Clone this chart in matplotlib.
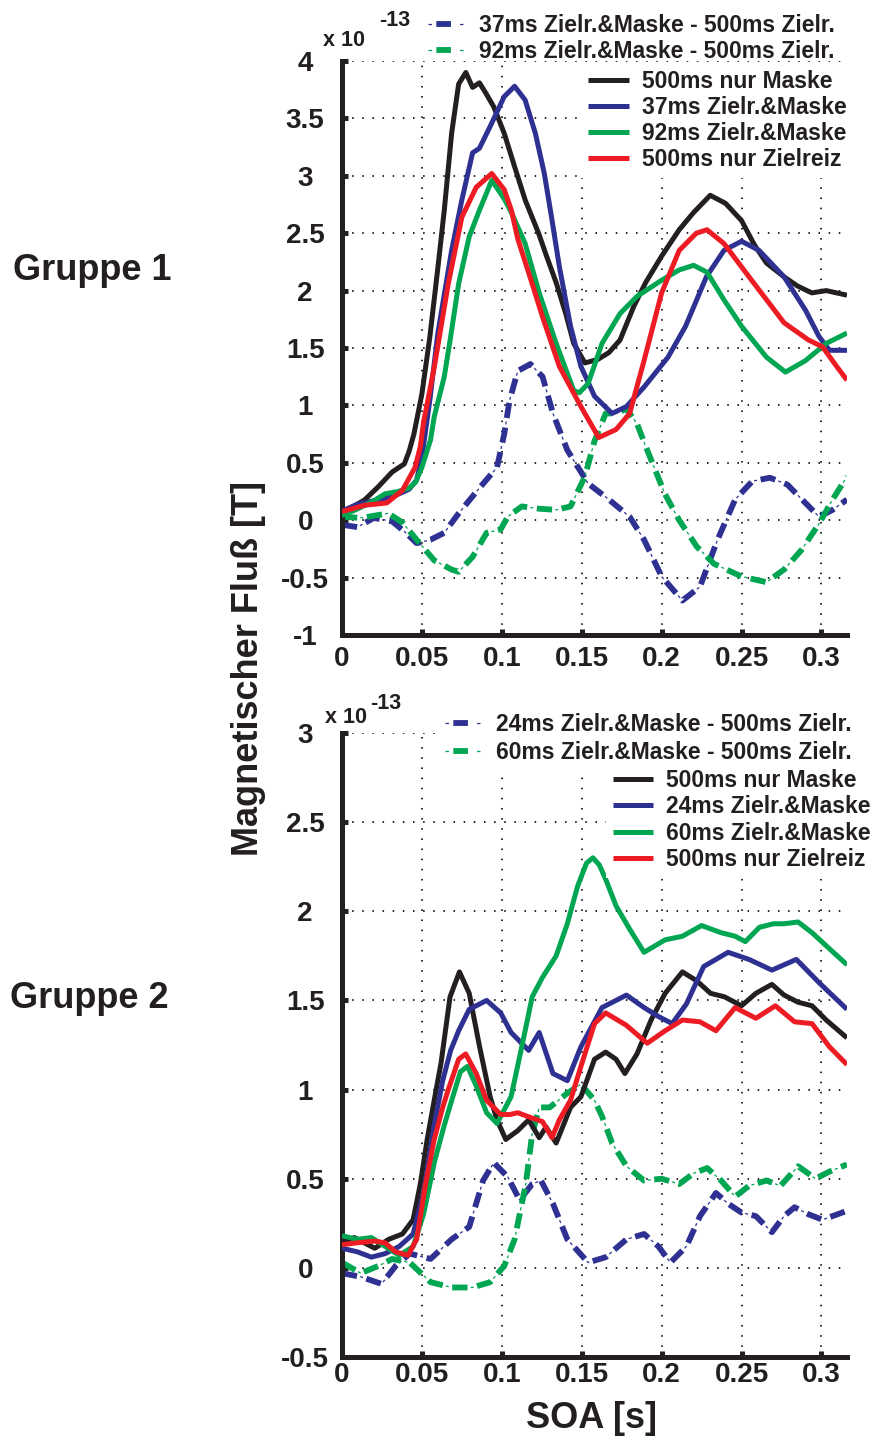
import matplotlib
matplotlib.use("Agg")
import matplotlib.pyplot as plt
from matplotlib.lines import Line2D
from matplotlib.legend_handler import HandlerTuple
from matplotlib.font_manager import FontProperties

plt.rcParams['font.family'] = ['Liberation Sans', 'DejaVu Sans']
plt.rcParams['font.weight'] = 'bold'
plt.rcParams['lines.scale_dashes'] = False

W, H = 877, 1441

# ---------------- data (SOA in s, flux in 1e-13 T) ----------------
# Gruppe 1
g1_black_t = [0, 0.007, 0.014, 0.0226, 0.0314, 0.039, 0.042, 0.045, 0.05, 0.055, 0.06, 0.064, 0.0686, 0.073,
              0.0775, 0.0817, 0.086, 0.09, 0.095, 0.1015, 0.108, 0.1146, 0.123, 0.128, 0.134, 0.14, 0.145,
              0.152, 0.16, 0.167, 0.174, 0.1825, 0.19, 0.2, 0.211, 0.22, 0.2304, 0.24, 0.25, 0.258, 0.2656,
              0.2766, 0.285, 0.294, 0.303, 0.316]
g1_black_v = [0.074, 0.12, 0.175, 0.29, 0.42, 0.49, 0.6, 0.75, 1.1, 1.6, 2.2, 2.7, 3.37, 3.8,
              3.90, 3.77, 3.81, 3.72, 3.60, 3.37, 3.08, 2.79, 2.5, 2.3, 2.07, 1.8, 1.54,
              1.37, 1.40, 1.46, 1.57, 1.86, 2.07, 2.30, 2.53, 2.68, 2.83, 2.76, 2.61, 2.4, 2.24,
              2.12, 2.04, 1.98, 2.0, 1.96]

g1_blue_t = [0, 0.01, 0.02, 0.03, 0.0358, 0.042, 0.0467, 0.05, 0.055, 0.06, 0.0686, 0.075, 0.0817, 0.086,
             0.0927, 0.1015, 0.108, 0.1146, 0.121, 0.1266, 0.131, 0.136, 0.143, 0.1495, 0.158, 0.169,
             0.178, 0.189, 0.204, 0.215, 0.228, 0.239, 0.25, 0.261, 0.2766, 0.29, 0.2985, 0.305, 0.316]
g1_blue_v = [0.08, 0.14, 0.17, 0.2, 0.23, 0.27, 0.35, 0.55, 1.05, 1.63, 2.35, 2.79, 3.2, 3.24,
             3.43, 3.69, 3.78, 3.66, 3.37, 3.02, 2.65, 2.21, 1.69, 1.34, 1.08, 0.93,
             0.99, 1.16, 1.42, 1.69, 2.12, 2.35, 2.43, 2.35, 2.12, 1.83, 1.6, 1.48, 1.48]

g1_green_t = [0, 0.01, 0.02, 0.027, 0.035, 0.042, 0.046, 0.05, 0.0554, 0.0577, 0.064, 0.068, 0.073, 0.0796,
              0.086, 0.0937, 0.1015, 0.106, 0.1146, 0.1234, 0.134, 0.145, 0.1485, 0.154, 0.1627, 0.174,
              0.1846, 0.2, 0.211, 0.22, 0.2284, 0.239, 0.25, 0.2656, 0.2775, 0.29, 0.303, 0.316]
g1_green_v = [0.04, 0.1, 0.17, 0.23, 0.25, 0.28, 0.33, 0.46, 0.7, 0.9, 1.25, 1.6, 2.06, 2.47,
              2.70, 2.96, 2.8, 2.68, 2.41, 1.98, 1.54, 1.13, 1.11, 1.19, 1.54, 1.80,
              1.95, 2.09, 2.18, 2.22, 2.16, 1.92, 1.69, 1.42, 1.29, 1.39, 1.54, 1.63]

g1_red_t = [0, 0.014, 0.028, 0.0378, 0.0457, 0.049, 0.051, 0.0577, 0.0665, 0.075, 0.084, 0.0937, 0.1015,
            0.106, 0.110, 0.119, 0.1255, 0.136, 0.1495, 0.1606, 0.1715, 0.18, 0.189, 0.2, 0.211, 0.2217,
            0.2284, 0.239, 0.2547, 0.2766, 0.2919, 0.3007, 0.3095, 0.316]
g1_red_v = [0.074, 0.13, 0.15, 0.26, 0.46, 0.64, 0.85, 1.33, 2.06, 2.64, 2.9, 3.02, 2.88,
            2.7, 2.45, 2.06, 1.77, 1.34, 0.99, 0.72, 0.79, 0.93, 1.39, 1.98, 2.35, 2.50,
            2.53, 2.41, 2.12, 1.72, 1.57, 1.51, 1.34, 1.22]

g1_bdiff_t = [0, 0.0096, 0.02, 0.0314, 0.040, 0.0467, 0.0554, 0.064, 0.073, 0.086, 0.097, 0.1015, 0.1048,
              0.110, 0.1179, 0.1255, 0.132, 0.141, 0.154, 0.167, 0.18, 0.189, 0.2, 0.213, 0.224, 0.235,
              0.246, 0.2568, 0.2678, 0.2787, 0.29, 0.2985, 0.307, 0.316]
g1_bdiff_v = [-0.04, -0.06, 0.02, -0.01, -0.11, -0.2, -0.17, -0.11, 0.06, 0.28, 0.46, 0.75, 1.04,
              1.30, 1.36, 1.25, 0.93, 0.61, 0.32, 0.18, 0.03, -0.17, -0.49, -0.7, -0.58, -0.17,
              0.18, 0.34, 0.37, 0.31, 0.15, 0.03, 0.09, 0.18]

g1_gdiff_t = [0, 0.012, 0.029, 0.0378, 0.0467, 0.0577, 0.0686, 0.073, 0.0817, 0.0905, 0.0993, 0.1037,
              0.1125, 0.1234, 0.134, 0.143, 0.152, 0.158, 0.165, 0.1715, 0.178, 0.1846, 0.191, 0.202,
              0.211, 0.222, 0.2328, 0.25, 0.2656, 0.2766, 0.2875, 0.2985, 0.307, 0.316]
g1_gdiff_v = [0.03, 0.02, 0.06, -0.02, -0.17, -0.35, -0.43, -0.45, -0.32, -0.11, -0.08, 0.03,
              0.12, 0.10, 0.09, 0.12, 0.38, 0.69, 0.93, 0.93, 0.97, 0.84, 0.61, 0.23,
              0.0, -0.23, -0.38, -0.49, -0.54, -0.43, -0.26, -0.03, 0.18, 0.38]

# Gruppe 2
g2_black_t = [0, 0.0077, 0.014, 0.0205, 0.0292, 0.0378, 0.0445, 0.049, 0.0533, 0.0577, 0.062, 0.0676,
              0.0735, 0.0796, 0.0861, 0.0927, 0.097, 0.1025, 0.110, 0.1168, 0.1234, 0.1277, 0.134,
              0.143, 0.1495, 0.158, 0.165, 0.1715, 0.177, 0.1846, 0.1934, 0.2022, 0.213, 0.222,
              0.2306, 0.2394, 0.25, 0.259, 0.269, 0.2766, 0.2854, 0.2941, 0.303, 0.316]
g2_black_v = [0.14, 0.17, 0.14, 0.11, 0.16, 0.19, 0.27, 0.47, 0.72, 0.94, 1.15, 1.52,
              1.66, 1.54, 1.24, 0.96, 0.83, 0.72, 0.77, 0.83, 0.73, 0.79, 0.70,
              0.90, 0.96, 1.17, 1.21, 1.17, 1.09, 1.20, 1.39, 1.54, 1.66, 1.61,
              1.54, 1.52, 1.47, 1.54, 1.59, 1.53, 1.49, 1.47, 1.39, 1.29]

g2_blue_t = [0, 0.0096, 0.0184, 0.027, 0.0358, 0.0445, 0.051, 0.0577, 0.063, 0.068, 0.073, 0.0796, 0.0905,
             0.0993, 0.1058, 0.1168, 0.1234, 0.132, 0.141, 0.1495, 0.1627, 0.178, 0.189, 0.198, 0.2066,
             0.2155, 0.2263, 0.2416, 0.2547, 0.269, 0.2843, 0.2985, 0.316]
g2_blue_v = [0.11, 0.09, 0.06, 0.08, 0.12, 0.19, 0.42, 0.8, 1.05, 1.22, 1.33, 1.45, 1.50,
             1.43, 1.32, 1.22, 1.32, 1.09, 1.05, 1.24, 1.46, 1.53, 1.46, 1.41, 1.37,
             1.48, 1.69, 1.77, 1.73, 1.67, 1.73, 1.60, 1.45]

g2_green_t = [0, 0.0096, 0.0184, 0.027, 0.0358, 0.0445, 0.051, 0.058, 0.064, 0.069, 0.0741, 0.0785, 0.084,
              0.0905, 0.097, 0.1058, 0.1125, 0.119, 0.1255, 0.134, 0.141, 0.1474, 0.153, 0.157, 0.161,
              0.165, 0.1715, 0.18, 0.189, 0.2022, 0.213, 0.225, 0.2372, 0.246, 0.2524, 0.2612, 0.27,
              0.2766, 0.2854, 0.2941, 0.305, 0.316]
g2_green_v = [0.18, 0.16, 0.17, 0.12, 0.07, 0.12, 0.3, 0.6, 0.8, 0.95, 1.10, 1.13, 1.02,
              0.87, 0.81, 0.96, 1.24, 1.52, 1.63, 1.75, 1.93, 2.14, 2.27, 2.30, 2.26,
              2.18, 2.03, 1.90, 1.77, 1.84, 1.86, 1.92, 1.88, 1.86, 1.83, 1.91, 1.93,
              1.93, 1.94, 1.88, 1.79, 1.70]

g2_red_t = [0, 0.009, 0.0205, 0.027, 0.0335, 0.0413, 0.0467, 0.0523, 0.0577, 0.063, 0.0665, 0.073, 0.0774,
            0.084, 0.0905, 0.0993, 0.105, 0.110, 0.119, 0.1255, 0.1314, 0.136, 0.143, 0.1495, 0.158,
            0.165, 0.178, 0.191, 0.2022, 0.213, 0.224, 0.234, 0.246, 0.259, 0.2712, 0.2832, 0.2941,
            0.305, 0.316]
g2_red_v = [0.13, 0.14, 0.15, 0.14, 0.09, 0.07, 0.16, 0.47, 0.72, 0.9, 1.0, 1.17, 1.20,
            1.09, 0.94, 0.86, 0.86, 0.87, 0.84, 0.82, 0.73, 0.83, 0.94, 1.13, 1.37,
            1.43, 1.36, 1.26, 1.33, 1.39, 1.38, 1.33, 1.46, 1.40, 1.47, 1.38, 1.37,
            1.24, 1.14]

g2_bdiff_t = [0, 0.0117, 0.0248, 0.0335, 0.0424, 0.0554, 0.0686, 0.0796, 0.0883, 0.095, 0.1037, 0.1112,
              0.119, 0.1245, 0.132, 0.141, 0.154, 0.165, 0.178, 0.189, 0.198, 0.2055, 0.2155, 0.224,
              0.234, 0.2416, 0.25, 0.259, 0.269, 0.2766, 0.2832, 0.292, 0.3007, 0.316]
g2_bdiff_v = [-0.03, -0.05, -0.09, 0.01, 0.08, 0.05, 0.16, 0.23, 0.49, 0.59, 0.51, 0.38,
              0.47, 0.49, 0.36, 0.16, 0.03, 0.06, 0.16, 0.19, 0.12, 0.03, 0.12, 0.29,
              0.42, 0.36, 0.31, 0.29, 0.20, 0.29, 0.34, 0.30, 0.27, 0.32]

g2_gdiff_t = [0, 0.0117, 0.0226, 0.0314, 0.0424, 0.0554, 0.0686, 0.0817, 0.0927, 0.1015, 0.108, 0.115,
              0.119, 0.1234, 0.13, 0.141, 0.1495, 0.158, 0.1627, 0.169, 0.178, 0.189, 0.2, 0.211,
              0.22, 0.2285, 0.2372, 0.246, 0.2547, 0.2656, 0.2744, 0.2854, 0.2963, 0.305, 0.316]
g2_gdiff_v = [0.03, -0.03, 0.01, 0.05, 0.03, -0.08, -0.11, -0.11, -0.08, 0.01, 0.16, 0.47,
              0.75, 0.90, 0.90, 0.98, 1.03, 0.94, 0.85, 0.70, 0.57, 0.49, 0.50, 0.47,
              0.53, 0.56, 0.49, 0.40, 0.46, 0.49, 0.46, 0.57, 0.50, 0.54, 0.58]

x_ticks = [0, 0.05, 0.1, 0.15, 0.2, 0.25, 0.3]
x_ticklabels = ['0', '0.05', '0.1', '0.15', '0.2', '0.25', '0.3']
g1_yticks = [-1, -0.5, 0, 0.5, 1, 1.5, 2, 2.5, 3, 3.5, 4]
g1_yticklabels = ['-1', '-0.5', '0', '0.5', '1', '1.5', '2', '2.5', '3', '3.5', '4']
g2_yticks = [-0.5, 0, 0.5, 1, 1.5, 2, 2.5, 3]
g2_yticklabels = ['-0.5', '0', '0.5', '1', '1.5', '2', '2.5', '3']

g1_solid_labels = ['500ms nur Maske', '37ms Zielr.&Maske', '92ms Zielr.&Maske', '500ms nur Zielreiz']
g1_diff_labels = ['37ms Zielr.&Maske - 500ms Zielr.', '92ms Zielr.&Maske - 500ms Zielr.']
g2_solid_labels = ['500ms nur Maske', '24ms Zielr.&Maske', '60ms Zielr.&Maske', '500ms nur Zielreiz']
g2_diff_labels = ['24ms Zielr.&Maske - 500ms Zielr.', '60ms Zielr.&Maske - 500ms Zielr.']

BLACK = '#231f20'
BLUE = '#2e3192'
GREEN = '#00a651'
RED = '#ed1c24'

# ---------------- figure ----------------
fig = plt.figure(figsize=(W / 100, H / 100), dpi=100)


def px_axes(left, top, right, bottom):
    return fig.add_axes([left / W, 1 - bottom / H, (right - left) / W, (bottom - top) / H])


ax1 = px_axes(342, 61, 847, 635)
ax2 = px_axes(342, 733, 847, 1357)

LW = 3.6


def dashdot(ax, t, v, color):
    ax.plot(t, v, color=color, lw=4.2, linestyle=(0, (11, 7)), dash_capstyle='butt',
            dash_joinstyle='round', zorder=2)
    ax.plot(t, v, color=color, lw=0.9, linestyle=(4.75, (2.2, 15.8)), zorder=2)


def solid(ax, t, v, color):
    return ax.plot(t, v, color=color, lw=LW, solid_joinstyle='round', solid_capstyle='butt', zorder=3)[0]


def style(ax, ylim, yticks, yticklabels, xpad):
    ax.set_xlim(0, 0.316)
    ax.set_ylim(*ylim)
    ax.set_xticks(x_ticks)
    ax.set_xticklabels(x_ticklabels)
    ax.set_yticks(yticks)
    ax.set_yticklabels(yticklabels)
    for s in ['top', 'right']:
        ax.spines[s].set_visible(False)
    for s in ['left', 'bottom']:
        ax.spines[s].set_linewidth(3.6)
        ax.spines[s].set_color(BLACK)
        ax.spines[s].set_capstyle('projecting')
    ax.tick_params(axis='both', direction='in', length=4, width=3.6, color=BLACK,
                   labelsize=20, labelcolor=BLACK)
    ax.tick_params(axis='y', pad=26.5)
    ax.tick_params(axis='x', pad=xpad)
    for lab in ax.get_yticklabels():
        lab.set_horizontalalignment('center')
        lab.set_fontweight('bold')
    for lab in ax.get_xticklabels():
        lab.set_fontweight('bold')
    ax.grid(True, color='black', linestyle=(0, (1.1, 6.2)), linewidth=1.2)
    ax.set_axisbelow(True)
    ax.patch.set_alpha(0)


leg_font = FontProperties(family=['Liberation Sans', 'DejaVu Sans'], weight='bold', size=16.5)


def diff_proxies(color):
    thick = Line2D([], [], color=color, lw=4.2, linestyle=(104.5, (10.5, 100)), dash_capstyle='butt')
    thin = Line2D([], [], color=color, lw=0.9, linestyle=(0, (2.5, 20.2, 2.5, 100)))
    return (thick, thin)


def add_legend(handles, labels, x_px, first_center_px, hl, pad, spacing, framed):
    bp = 0.3 if framed else 0.0
    padpx = bp * 16.5 * 100 / 72
    top_px = first_center_px - 10 - padpx
    left_px = x_px - padpx
    leg = fig.legend(handles, labels, loc='upper left',
                     bbox_to_anchor=(left_px / W, 1 - top_px / H),
                     bbox_transform=fig.transFigure, frameon=framed, borderpad=bp, borderaxespad=0,
                     handlelength=hl, handletextpad=pad, labelspacing=spacing, prop=leg_font,
                     handler_map={tuple: HandlerTuple(ndivide=1)}, labelcolor=BLACK,
                     fancybox=False)
    if framed:
        leg.get_frame().set_facecolor('white')
        leg.get_frame().set_edgecolor('none')
        leg.get_frame().set_alpha(1)
    return leg


# Gruppe 1
dashdot(ax1, g1_bdiff_t, g1_bdiff_v, BLUE)
dashdot(ax1, g1_gdiff_t, g1_gdiff_v, GREEN)
h1 = [solid(ax1, g1_black_t, g1_black_v, BLACK),
      solid(ax1, g1_blue_t, g1_blue_v, BLUE),
      solid(ax1, g1_green_t, g1_green_v, GREEN),
      solid(ax1, g1_red_t, g1_red_v, RED)]
style(ax1, (-1, 4), g1_yticks, g1_yticklabels, 8)

# Gruppe 2
dashdot(ax2, g2_bdiff_t, g2_bdiff_v, BLUE)
dashdot(ax2, g2_gdiff_t, g2_gdiff_v, GREEN)
h2 = [solid(ax2, g2_black_t, g2_black_v, BLACK),
      solid(ax2, g2_blue_t, g2_blue_v, BLUE),
      solid(ax2, g2_green_t, g2_green_v, GREEN),
      solid(ax2, g2_red_t, g2_red_v, RED)]
style(ax2, (-0.5, 3), g2_yticks, g2_yticklabels, 3.5)

# legends
add_legend([diff_proxies(BLUE), diff_proxies(GREEN)], g1_diff_labels, 427.7, 24, 1.52, 0.7, 0.14, False)
add_legend(h1, g1_solid_labels, 588, 80, 1.8, 0.55, 0.13, True)
add_legend([diff_proxies(BLUE), diff_proxies(GREEN)], g2_diff_labels, 445, 723, 1.52, 0.7, 0.2, True)
add_legend(h2, g2_solid_labels, 612.6, 779, 1.75, 0.58, 0.15, True)


# texts
def ftext(x, y, s, **kw):
    fig.text(x / W, 1 - y / H, s, color=BLACK, fontweight='bold', **kw)


ftext(323, 41, 'x 10', fontsize=15.5, ha='left', va='center')
ftext(379, 20, '-13', fontsize=15.5, ha='left', va='center')
ftext(325, 717, 'x 10', fontsize=15.5, ha='left', va='center')
ftext(370, 704, '-13', fontsize=15.5, ha='left', va='center')

ftext(92, 271, 'Gruppe 1', fontsize=26, ha='center', va='center')
ftext(89, 999, 'Gruppe 2', fontsize=26, ha='center', va='center')
ftext(249, 668, 'Magnetischer Fluß [T]', fontsize=26, ha='center', va='center', rotation=90)
ftext(591, 1419, 'SOA [s]', fontsize=26, ha='center', va='center')

fig.savefig('out.png', dpi=100)
